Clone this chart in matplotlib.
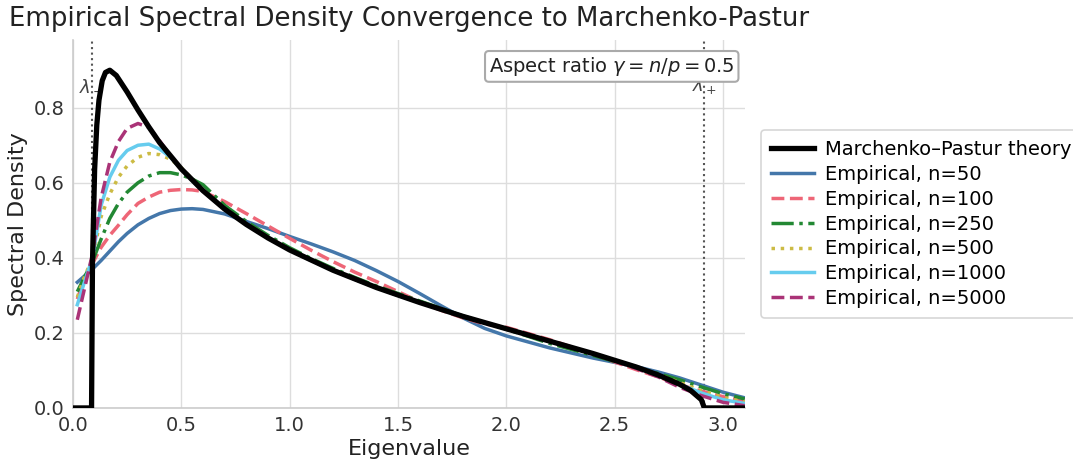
import matplotlib
matplotlib.use('Agg')
import matplotlib.pyplot as plt
import numpy as np

# aspect ratio and edges of the support
gamma = 0.5
lam_minus = 0.0858
lam_plus = 2.914

# Marchenko-Pastur density
x_theory = [0.0, 0.0858, 0.09, 0.10, 0.11, 0.12, 0.135, 0.15, 0.17, 0.20, 0.25, 0.30, 0.35, 0.40,
            0.50, 0.60, 0.70, 0.80, 0.90, 1.0, 1.2, 1.4, 1.6, 1.8, 2.0, 2.2, 2.4, 2.6,
            2.7, 2.8, 2.85, 2.9, 2.914, 3.1]
y_theory = [0.0, 0.0, 0.385, 0.636, 0.754, 0.820, 0.872, 0.894, 0.900, 0.886, 0.842, 0.794, 0.749, 0.707,
            0.637, 0.579, 0.530, 0.489, 0.453, 0.421, 0.367, 0.321, 0.281, 0.244, 0.211, 0.178, 0.145, 0.109,
            0.088, 0.063, 0.047, 0.022, 0.0, 0.0]

# empirical densities
x_emp = [0.02, 0.05, 0.09, 0.13, 0.17, 0.21, 0.25, 0.30, 0.35, 0.40, 0.45, 0.50, 0.55, 0.60,
         0.70, 0.80, 0.90, 1.0, 1.1, 1.2, 1.3, 1.4, 1.5, 1.6, 1.7, 1.8, 1.9, 2.0,
         2.2, 2.4, 2.6, 2.7, 2.8, 2.9, 3.0, 3.1]
emp_50 = [0.335, 0.350, 0.370, 0.393, 0.418, 0.443, 0.465, 0.488, 0.505, 0.518, 0.526, 0.530, 0.531, 0.529,
          0.517, 0.497, 0.478, 0.457, 0.437, 0.416, 0.393, 0.366, 0.337, 0.305, 0.272, 0.240, 0.212, 0.192,
          0.160, 0.133, 0.110, 0.096, 0.080, 0.061, 0.042, 0.027]
emp_100 = [0.290, 0.340, 0.385, 0.428, 0.460, 0.487, 0.515, 0.545, 0.562, 0.575, 0.580, 0.582, 0.581, 0.577,
           0.550, 0.518, 0.485, 0.452, 0.420, 0.390, 0.362, 0.337, 0.310, 0.283, 0.260, 0.240, 0.224, 0.215,
           0.182, 0.143, 0.102, 0.083, 0.062, 0.045, 0.030, 0.018]
emp_250 = [0.310, 0.345, 0.390, 0.450, 0.505, 0.545, 0.575, 0.600, 0.618, 0.627, 0.627, 0.621, 0.610, 0.595,
           0.540, 0.497, 0.460, 0.427, 0.398, 0.372, 0.348, 0.325, 0.305, 0.285, 0.265, 0.245, 0.228, 0.210,
           0.172, 0.140, 0.108, 0.092, 0.075, 0.056, 0.038, 0.024]
emp_500 = [0.295, 0.345, 0.400, 0.510, 0.570, 0.615, 0.645, 0.668, 0.678, 0.675, 0.663, 0.640, 0.610, 0.580,
           0.532, 0.490, 0.455, 0.423, 0.394, 0.368, 0.344, 0.322, 0.301, 0.281, 0.262, 0.244, 0.227, 0.211,
           0.177, 0.144, 0.107, 0.089, 0.068, 0.046, 0.028, 0.016]
emp_1000 = [0.275, 0.330, 0.400, 0.540, 0.615, 0.660, 0.686, 0.700, 0.703, 0.690, 0.668, 0.637, 0.606, 0.578,
            0.530, 0.489, 0.453, 0.421, 0.393, 0.367, 0.343, 0.321, 0.300, 0.281, 0.262, 0.244, 0.227, 0.211,
            0.178, 0.145, 0.107, 0.087, 0.063, 0.040, 0.022, 0.012]
emp_5000 = [0.235, 0.310, 0.410, 0.560, 0.655, 0.710, 0.745, 0.758, 0.748, 0.712, 0.672, 0.637, 0.607, 0.578,
            0.530, 0.489, 0.453, 0.421, 0.393, 0.367, 0.343, 0.321, 0.300, 0.281, 0.262, 0.244, 0.227, 0.211,
            0.178, 0.145, 0.105, 0.083, 0.055, 0.033, 0.015, 0.006]

sizes = [50, 100, 250, 500, 1000, 5000]
series = [emp_50, emp_100, emp_250, emp_500, emp_1000, emp_5000]
colors = ['#4477AA', '#EE6677', '#228833', '#CCBB44', '#66CCEE', '#AA3377']
styles = ['-', '--', '-.', ':', '-', '--']

plt.rcParams['font.family'] = 'DejaVu Sans'
fig = plt.figure(figsize=(10.73, 4.62), dpi=100)
ax = fig.add_axes([0.068, 0.117, 0.626, 0.796])

ax.plot(x_theory, y_theory, color='black', lw=3.8, label='Marchenko\u2013Pastur theory', zorder=5)
for n, ys, c, ls in zip(sizes, series, colors, styles):
    ax.plot(x_emp, ys, color=c, ls=ls, lw=2.5, label='Empirical, n=' + str(n), zorder=4)

# support edges
for lam, lab in [(lam_minus, r'$\lambda_-$'), (lam_plus, r'$\lambda_+$')]:
    ax.axvline(lam, color='#555555', ls=':', lw=1.5, zorder=2)
    ax.text(lam, 0.86, lab, ha='center', va='center', fontsize=13, color='#444444', zorder=3)

ax.text(0.985, 0.96, r'Aspect ratio $\gamma = n/p = 0.5$', transform=ax.transAxes,
        ha='right', va='top', fontsize=14, color='#222222',
        bbox=dict(boxstyle='round,pad=0.2', facecolor='white', edgecolor='#aaaaaa', lw=1.5), zorder=6)

ax.set_xlim(0, 3.1)
ax.set_ylim(0, 0.98)
ax.set_xticks(np.arange(0, 3.01, 0.5))
ax.set_yticks(np.arange(0, 0.81, 0.2))
ax.grid(True, color='#dddddd', lw=1.0)
ax.set_axisbelow(True)
for s in ['top', 'right']:
    ax.spines[s].set_visible(False)
for s in ['left', 'bottom']:
    ax.spines[s].set_color('#cccccc')
    ax.spines[s].set_linewidth(1.2)
ax.tick_params(length=0, labelsize=14, colors='#333333', pad=6)
ax.set_xlabel('Eigenvalue', fontsize=16, color='#222222', labelpad=3)
ax.set_ylabel('Spectral Density', fontsize=16, color='#222222')
ax.set_title('Empirical Spectral Density Convergence to Marchenko-Pastur', fontsize=18.7,
             color='#222222', loc='left', x=-0.095, pad=10)

leg = ax.legend(loc='center left', bbox_to_anchor=(1.01, 0.5), fontsize=14, frameon=True,
                handlelength=2.2, handletextpad=0.6, borderpad=0.5, labelspacing=0.3)
leg.get_frame().set_edgecolor('#cccccc')
leg.get_frame().set_linewidth(1.2)

plt.savefig('out.png', dpi=100)
